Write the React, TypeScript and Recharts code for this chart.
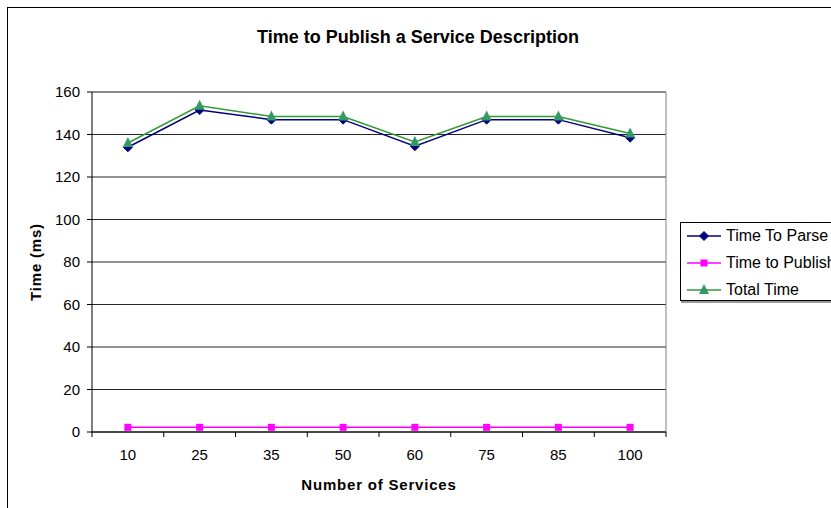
import React from "react";
import {
  LineChart,
  Line,
  XAxis,
  YAxis,
  CartesianGrid,
  ReferenceLine,
} from "recharts";

const categories = ["10", "25", "35", "50", "60", "75", "85", "100"];
const timeToParse = [134, 151.5, 147, 147, 134.5, 147, 147, 138.5];
const timeToPublish = [2.2, 2.2, 2.2, 2.2, 2.2, 2.2, 2.2, 2.2];
const totalTime = [136, 153.5, 148.5, 148.5, 136.5, 148.5, 148.5, 140.5];
const yTicks = [0, 20, 40, 60, 80, 100, 120, 140, 160];

const FONT = "'Liberation Sans', Arial, sans-serif";
const NAVY = "#000080";
const MAGENTA = "#FF00FF";
const GREEN = "#339933";
const GREEN_FILL = "#339966";

// category i sits in the middle of band i, so ticks can land on band edges
const data = categories.map((c, i) => ({
  x: i + 0.5,
  label: c,
  parse: timeToParse[i],
  publish: timeToPublish[i],
  total: totalTime[i],
}));

const xTicks: number[] = [];
for (let i = 0; i <= categories.length * 2; i++) xTicks.push(i / 2);

const Diamond = ({ cx, cy, size = 4.5, fill }: any) => (
  <polygon
    points={`${cx},${cy - size} ${cx + size},${cy} ${cx},${cy + size} ${cx - size},${cy}`}
    fill={fill}
    stroke={fill}
  />
);

const Square = ({ cx, cy, size = 3.5, fill }: any) => (
  <rect x={cx - size} y={cy - size} width={size * 2} height={size * 2} fill={fill} />
);

const Triangle = ({ cx, cy, size = 5, fill }: any) => (
  <polygon
    points={`${cx},${cy - size - 1} ${cx + size},${cy + size - 1} ${cx - size},${cy + size - 1}`}
    fill={fill}
  />
);

// x axis: tick marks on band edges, labels in band centres
const XTick = (props: any) => {
  const { x, y, payload } = props;
  const v = payload.value as number;
  if (Number.isInteger(v)) {
    return <line x1={x} y1={y} x2={x} y2={y + 5} stroke="#000" />;
  }
  const idx = Math.floor(v);
  return (
    <text x={x} y={y + 28} textAnchor="middle" fill="#000" fontSize={15} fontFamily={FONT}>
      {categories[idx]}
    </text>
  );
};

const legendItems = [
  { name: "Time To Parse", color: NAVY, marker: "diamond" },
  { name: "Time to Publish", color: MAGENTA, marker: "square" },
  { name: "Total Time", color: GREEN, marker: "triangle" },
];

function LegendBox() {
  return (
    <div
      style={{
        position: "absolute",
        left: 680,
        top: 222,
        width: 220,
        height: 77,
        border: "1px solid #000",
        boxShadow: "1px 2px 0 #999",
        background: "#fff",
        fontFamily: FONT,
        fontSize: 16,
      }}
    >
      {legendItems.map((it, i) => (
        <div
          key={it.name}
          style={{ position: "absolute", left: 5, top: 3 + i * 27, height: 20, display: "flex", alignItems: "center" }}
        >
          <svg width={36} height={20}>
            <line x1={1} y1={10} x2={35} y2={10} stroke={it.color} strokeWidth={1.5} />
            {it.marker === "diamond" && <Diamond cx={18} cy={10} fill={it.color} />}
            {it.marker === "square" && <Square cx={18} cy={10} fill={it.color} />}
            {it.marker === "triangle" && <Triangle cx={18} cy={10} fill={GREEN_FILL} />}
          </svg>
          <span style={{ marginLeft: 4, whiteSpace: "nowrap" }}>{it.name}</span>
        </div>
      ))}
    </div>
  );
}

export default function App() {
  return (
    <div
      style={{
        position: "absolute",
        left: 0,
        top: 0,
        width: 831,
        height: 508,
        overflow: "hidden",
        background: "#fff",
        fontFamily: FONT,
      }}
    >
      {/* outer chart border, runs off the right and bottom edges */}
      <div
        style={{
          position: "absolute",
          left: 7,
          top: 7,
          width: 1000,
          height: 1000,
          border: "1px solid #000",
        }}
      />

      <LineChart
        width={831}
        height={508}
        data={data}
        margin={{ top: 92, right: 165, bottom: 0, left: 0 }}
        style={{ position: "absolute", left: 0, top: 0 }}
      >
        <CartesianGrid horizontal vertical={false} stroke="#000" strokeOpacity={0.85} />
        <XAxis
          dataKey="x"
          type="number"
          domain={[0, categories.length]}
          ticks={xTicks}
          interval={0}
          height={76}
          tickSize={0}
          tickMargin={0}
          tickLine={false}
          axisLine={{ stroke: "#000" }}
          tick={<XTick />}
        />
        <YAxis
          domain={[0, 160]}
          ticks={yTicks}
          interval={0}
          width={92}
          tickSize={5}
          tickMargin={7}
          axisLine={{ stroke: "#000" }}
          tickLine={{ stroke: "#000" }}
          tick={{ fill: "#000", fontSize: 15, fontFamily: FONT }}
        />
        <ReferenceLine y={160} stroke="#808080" />
        <ReferenceLine x={categories.length} stroke="#808080" />

        <Line
          dataKey="publish"
          stroke={MAGENTA}
          strokeWidth={1.5}
          isAnimationActive={false}
          dot={(p: any) => <Square key={`s${p.index}`} cx={p.cx} cy={p.cy} fill={MAGENTA} />}
        />
        <Line
          dataKey="parse"
          stroke={NAVY}
          strokeWidth={1.5}
          isAnimationActive={false}
          dot={(p: any) => <Diamond key={`d${p.index}`} cx={p.cx} cy={p.cy} fill={NAVY} />}
        />
        <Line
          dataKey="total"
          stroke={GREEN}
          strokeWidth={1.5}
          isAnimationActive={false}
          dot={(p: any) => <Triangle key={`t${p.index}`} cx={p.cx} cy={p.cy} fill={GREEN_FILL} />}
        />
      </LineChart>

      {/* titles */}
      <div
        style={{
          position: "absolute",
          left: 8,
          width: 820,
          top: 27,
          textAlign: "center",
          fontWeight: "bold",
          fontSize: 18,
        }}
      >
        Time to Publish a Service Description
      </div>
      <div
        style={{
          position: "absolute",
          left: 92,
          width: 574,
          top: 476,
          textAlign: "center",
          fontWeight: "bold",
          fontSize: 15,
          letterSpacing: 0.8,
        }}
      >
        Number of Services
      </div>
      <div
        style={{
          position: "absolute",
          left: 35,
          top: 262,
          transform: "translate(-50%, -50%) rotate(-90deg)",
          whiteSpace: "nowrap",
          fontWeight: "bold",
          fontSize: 15,
          letterSpacing: 0.8,
        }}
      >
        Time (ms)
      </div>

      <LegendBox />
    </div>
  );
}
